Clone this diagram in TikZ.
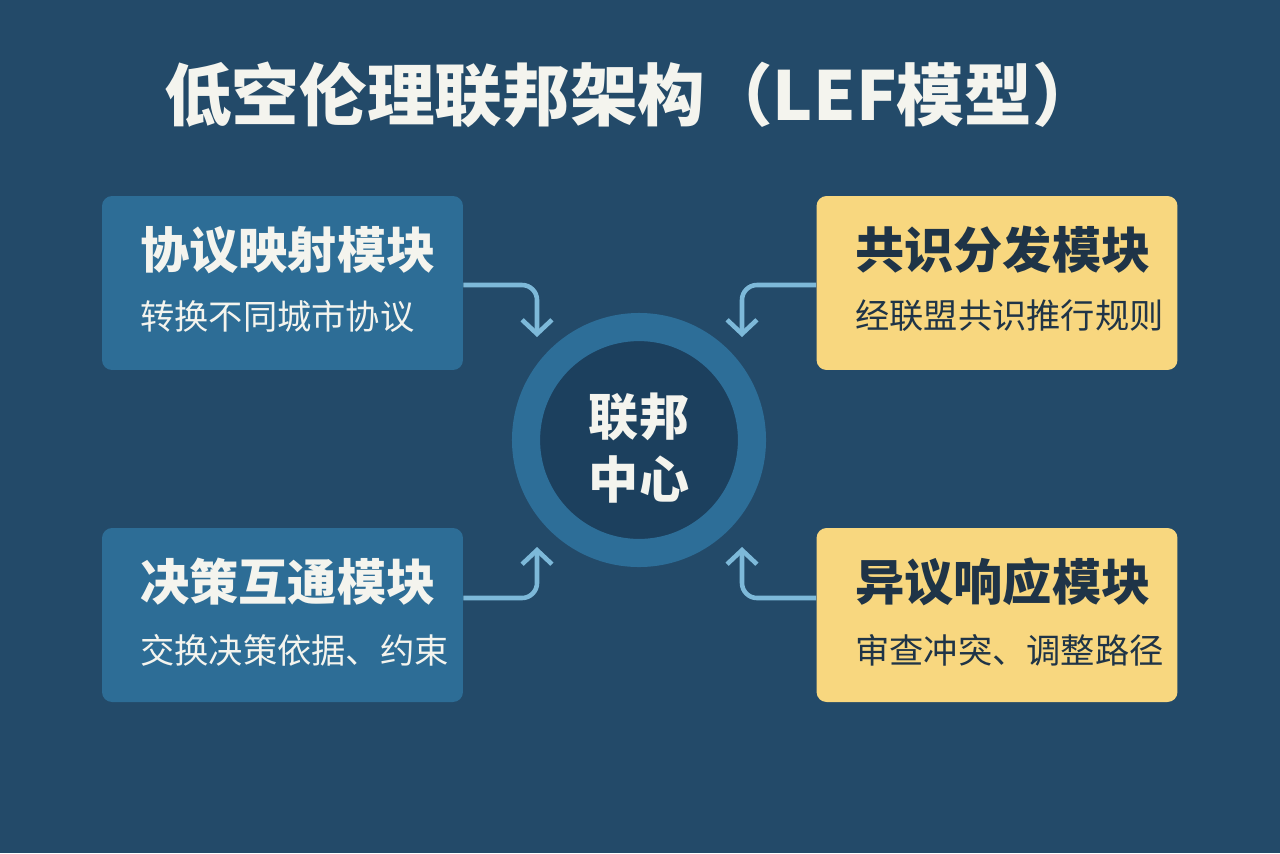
\documentclass[tikz,border=0pt]{standalone}
\usepackage{fontspec}
\setmainfont{Noto Sans CJK SC}
\usetikzlibrary{arrows.meta,calc}
\definecolor{bgblue}{HTML}{234A69}
\definecolor{modblue}{HTML}{2D6D96}
\definecolor{modyellow}{HTML}{F8D77F}
\definecolor{flowblue}{HTML}{7DB9D9}
\definecolor{ringblue}{HTML}{2D6E98}
\definecolor{hubdark}{HTML}{1C405E}
\definecolor{inkdark}{HTML}{1F3447}
\definecolor{inklight}{HTML}{F4F4EE}
\begin{document}
\begin{tikzpicture}[x=0.02cm, y=-0.02cm,
    module/.style={rounded corners=0.2cm, minimum width=7.22cm, minimum height=3.48cm, inner sep=0pt},
    bluemod/.style={module, fill=modblue},
    yellowmod/.style={module, fill=modyellow},
    head/.style={anchor=west, inner sep=0pt, font=\bfseries\fontsize{28}{30}\selectfont},
    sub/.style={anchor=west, inner sep=0pt, font=\fontsize{19.5}{22}\selectfont},
    flow/.style={draw=flowblue, line width=2.6pt, rounded corners=0.3cm,
        -{Straight Barb[length=8pt, width=17pt]}}]
        \fill[bgblue] (0,0) rectangle (1280,853);
        \useasboundingbox (0,0) rectangle (1280,853);
        \node[text=inklight, font=\bfseries\fontsize{38.5}{40}\selectfont] (title) at (632,95)
            {低空伦理联邦架构（LEF模型）};
        % four modules
        \node[bluemod] (map) at (282.5,283) {};
        \node[bluemod] (dec) at (282.5,615) {};
        \node[yellowmod] (cons) at (997,283) {};
        \node[yellowmod] (obj) at (997,615) {};
        \node[head, text=inklight] at (140,250) {协议映射模块};
        \node[sub, text=inklight] at (140,316) {转换不同城市协议};
        \node[head, text=inklight] at (140,582) {决策互通模块};
        \node[sub, text=inklight] at (140,650) {交换决策依据、约束};
        \node[head, text=inkdark] at (855,250) {共识分发模块};
        \node[sub, text=inkdark] at (855,316) {经联盟共识推行规则};
        \node[head, text=inkdark] at (855,582) {异议响应模块};
        \node[sub, text=inkdark] at (855,650) {审查冲突、调整路径};
        % hub
        \node[circle, fill=hubdark, draw=ringblue, line width=16pt, minimum size=4.52cm] (hub) at (639,440) {};
        \node[text=inklight, align=center, font=\bfseries\fontsize{28.5}{36}\selectfont] at (639,448) {联邦\\中心};
        % arrows into the hub
        \coordinate (tl) at (537,337);
        \coordinate (tr) at (742,337);
        \coordinate (bl) at (537,547);
        \coordinate (br) at (742,547);
        \draw[flow] ($(map.east)+(0,2)$) -| (tl);
        \draw[flow] ($(cons.west)+(0,2)$) -| (tr);
        \draw[flow] ($(dec.east)+(0,-17)$) -| (bl);
        \draw[flow] ($(obj.west)+(0,-17)$) -| (br);
\end{tikzpicture}
\end{document}
